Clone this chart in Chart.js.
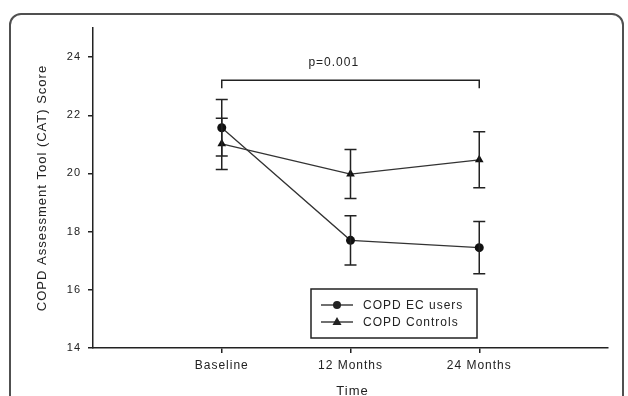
<!DOCTYPE html>
<html>
<head>
<meta charset="utf-8">
<script src="https://cdn.jsdelivr.net/npm/chart.js@4"></script>
<style>
  html, body { margin:0; padding:0; background:#fff; }
  #wrap { position:relative; width:628px; height:396px; overflow:hidden; background:#fff; }
  #frame { position:absolute; left:9px; top:13px; width:615px; height:420px; border:2px solid #505050; border-radius:12px; box-sizing:border-box; }
  canvas { position:absolute; left:0; top:0; }
</style>
</head>
<body>
<div id="wrap">
  <div id="frame"></div>
  <canvas id="c" width="628" height="396"></canvas>
</div>
<script>
// ---- data ----
const categories = ["Baseline", "12 Months", "24 Months"];
const xPositions = [1, 2, 3];
const ecUsers = [21.57, 17.70, 17.45];
const ecUsersErr = [0.97, 0.85, 0.90];
const controls = [21.02, 19.98, 20.47];
const controlsErr = [0.88, 0.84, 0.96];
const yTicks = [14, 16, 18, 20, 22, 24];
const seriesNames = ["COPD EC users", "COPD Controls"];
const pLabel = "p=0.001";
const bracketFrom = 1, bracketTo = 3, bracketY = 23.2, bracketTickY = 22.93;
const pTextX = 1.87, pTextY = 23.82;

const FONT = "'Liberation Sans', Arial, sans-serif";
const INK = "#222";

const spacingPlugin = {
  id: 'spacing',
  beforeLayout(chart) { chart.ctx.letterSpacing = '1px'; },
  beforeDraw(chart) { chart.ctx.letterSpacing = '1px'; }
};

const errorBarPlugin = {
  id: 'errorBars',
  afterDatasetsDraw(chart) {
    const ctx = chart.ctx, xs = chart.scales.x, ys = chart.scales.y;
    const errs = [ecUsersErr, controlsErr];
    const means = [ecUsers, controls];
    ctx.save();
    ctx.letterSpacing = '1px';
    ctx.strokeStyle = INK; ctx.lineWidth = 1.5;
    means.forEach((m, di) => {
      m.forEach((v, i) => {
        const px = xs.getPixelForValue(xPositions[i]);
        const top = ys.getPixelForValue(v + errs[di][i]);
        const bot = ys.getPixelForValue(v - errs[di][i]);
        ctx.beginPath();
        ctx.moveTo(px, top); ctx.lineTo(px, bot);
        ctx.moveTo(px - 6, top); ctx.lineTo(px + 6, top);
        ctx.moveTo(px - 6, bot); ctx.lineTo(px + 6, bot);
        ctx.stroke();
      });
    });
    // significance bracket
    const bx1 = xs.getPixelForValue(bracketFrom), bx2 = xs.getPixelForValue(bracketTo);
    const by = ys.getPixelForValue(bracketY), bt = ys.getPixelForValue(bracketTickY);
    ctx.beginPath();
    ctx.moveTo(bx1, bt); ctx.lineTo(bx1, by); ctx.lineTo(bx2, by); ctx.lineTo(bx2, bt);
    ctx.stroke();
    ctx.fillStyle = INK;
    ctx.font = "12px " + FONT;
    ctx.textAlign = 'center'; ctx.textBaseline = 'middle';
    ctx.fillText(pLabel, xs.getPixelForValue(pTextX), ys.getPixelForValue(pTextY));

    // axis titles
    ctx.font = "13px " + FONT;
    ctx.save();
    ctx.translate(42, (chart.chartArea.top + chart.chartArea.bottom) / 2);
    ctx.rotate(-Math.PI / 2);
    ctx.fillText("COPD Assessment Tool (CAT) Score", 0, 0);
    ctx.restore();
    ctx.font = "13px " + FONT;
    ctx.fillText("Time", xs.getPixelForValue(2) + 2, 391);

    // legend box
    const L = 311, T = 289, R = 477, B = 338;
    ctx.lineWidth = 1.5;
    ctx.strokeRect(L, T, R - L, B - T);
    const rows = [305, 322];
    ctx.font = "12px " + FONT;
    ctx.textAlign = 'left';
    rows.forEach((ry, k) => {
      ctx.lineWidth = 1.3;
      ctx.beginPath(); ctx.moveTo(321, ry); ctx.lineTo(353, ry); ctx.stroke();
      ctx.beginPath();
      if (k === 0) { ctx.arc(337, ry, 4, 0, Math.PI * 2); }
      else { ctx.moveTo(337, ry - 5); ctx.lineTo(341.5, ry + 3); ctx.lineTo(332.5, ry + 3); ctx.closePath(); }
      ctx.fill();
      ctx.fillText(seriesNames[k], 363, ry + 0.5);
    });
    ctx.restore();
  }
};

new Chart(document.getElementById('c'), {
  type: 'line',
  data: {
    datasets: [
      {
        label: seriesNames[0],
        data: xPositions.map((x, i) => ({ x, y: ecUsers[i] })),
        borderColor: '#333', backgroundColor: '#111', borderWidth: 1.3,
        pointStyle: 'circle', pointRadius: 4.5, pointBorderWidth: 0, tension: 0
      },
      {
        label: seriesNames[1],
        data: xPositions.map((x, i) => ({ x, y: controls[i] })),
        borderColor: '#333', backgroundColor: '#111', borderWidth: 1.3,
        pointStyle: 'triangle', pointRadius: 5, pointBorderWidth: 0, tension: 0
      }
    ]
  },
  options: {
    responsive: false, animation: false,
    layout: { padding: { left: 0, top: 28, right: 20, bottom: 0 } },
    plugins: { legend: { display: false }, tooltip: { enabled: false } },
    scales: {
      x: {
        type: 'linear', min: 0, max: 4,
        afterFit(s) { s.height = 48; },
        afterBuildTicks(s) { s.ticks = xPositions.map(v => ({ value: v })); },
        ticks: { callback: (v, i) => categories[i], color: INK, font: { size: 12, family: FONT }, padding: 5, maxRotation: 0 },
        grid: { display: true, drawOnChartArea: false, drawTicks: true, tickLength: 5, color: INK, lineWidth: 1.5 },
        border: { display: true, color: INK, width: 1.5 }
      },
      y: {
        min: 14, max: 25,
        afterFit(s) { s.width = 93; },
        afterBuildTicks(s) { s.ticks = yTicks.map(v => ({ value: v })); },
        ticks: { color: INK, font: { size: 11, family: FONT }, padding: 7 },
        grid: { display: true, drawOnChartArea: false, drawTicks: true, tickLength: 5, color: INK, lineWidth: 1.5 },
        border: { display: true, color: INK, width: 1.5 }
      }
    }
  },
  plugins: [spacingPlugin, errorBarPlugin]
});
</script>
</body>
</html>
